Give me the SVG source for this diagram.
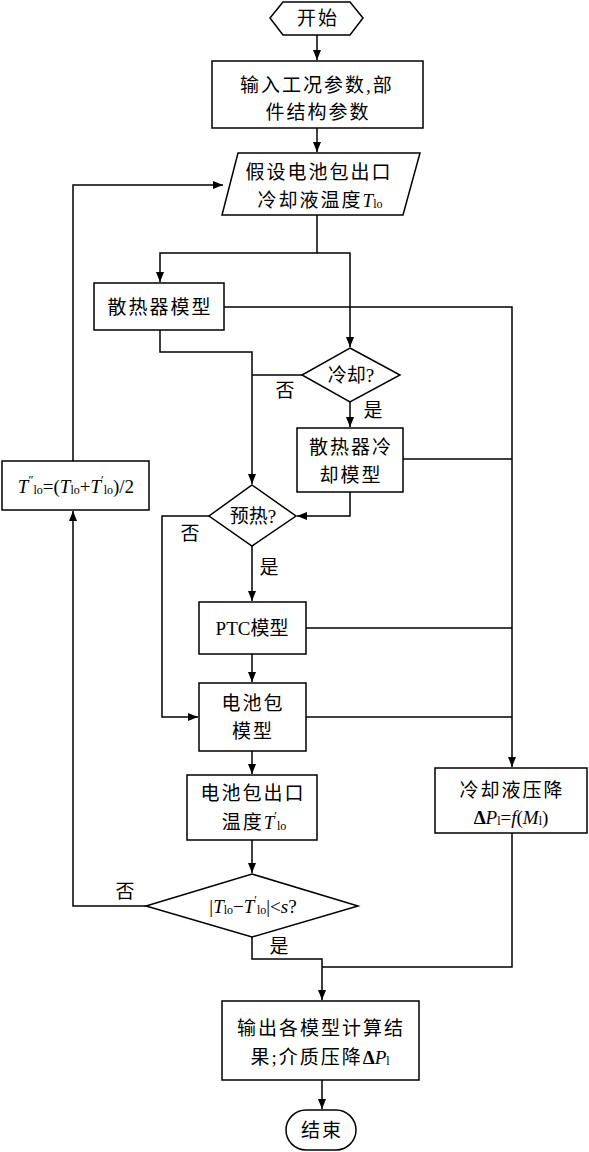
<svg xmlns="http://www.w3.org/2000/svg" width="589" height="1152" viewBox="0 0 589 1152">
<style>
.n{fill:#fff;stroke:#000;stroke-width:1.5}
.c{fill:none;stroke:#000;stroke-width:1.5}
text{font-family:"Liberation Serif","Noto Sans CJK SC",serif;font-size:19px;fill:#000;text-anchor:middle;dominant-baseline:central}
.z{letter-spacing:2px}
.i{font-style:italic}
.s{font-size:12px}
</style>
<defs>
<marker id="a" viewBox="0 0 10 8" refX="10" refY="4" markerWidth="10" markerHeight="8" markerUnits="userSpaceOnUse" orient="auto"><path d="M0,0L10,4L0,8z" fill="#000"/></marker>
</defs>
<g id="connectors">
<path class="c" d="M317,35V60" marker-end="url(#a)"/>
<path class="c" d="M317,128V152" marker-end="url(#a)"/>
<path class="c" d="M317,215V253H160V282" marker-end="url(#a)"/>
<path class="c" d="M317,253H350V347" marker-end="url(#a)"/>
<path class="c" d="M224,307H512V767" marker-end="url(#a)"/>
<path class="c" d="M160,330V352H252V484" marker-end="url(#a)"/>
<path class="c" d="M302,375H252"/>
<path class="c" d="M350,402V427" marker-end="url(#a)"/>
<path class="c" d="M403,459H512"/>
<path class="c" d="M350,492V516H297" marker-end="url(#a)"/>
<path class="c" d="M209,516H162V717H198" marker-end="url(#a)"/>
<path class="c" d="M252,546V601" marker-end="url(#a)"/>
<path class="c" d="M306,628H512"/>
<path class="c" d="M252,654V682" marker-end="url(#a)"/>
<path class="c" d="M306,717H512"/>
<path class="c" d="M252,751V774" marker-end="url(#a)"/>
<path class="c" d="M252,840V873" marker-end="url(#a)"/>
<path class="c" d="M146,906H73V511" marker-end="url(#a)"/>
<path class="c" d="M73,461V185H223" marker-end="url(#a)"/>
<path class="c" d="M252,937V959H322V1000" marker-end="url(#a)"/>
<path class="c" d="M512,833V967H322"/>
<path class="c" d="M322,1080V1109" marker-end="url(#a)"/>
<text x="285" y="390">否</text>
<text x="373" y="410">是</text>
<text x="190" y="533">否</text>
<text x="269" y="567">是</text>
<text x="125" y="891">否</text>
<text x="279" y="946">是</text>
</g>
<g id="start">
<polygon class="n" points="270,18 283,2 350,2 363,18 350,35 283,35"/>
<text class="z" x="318" y="18">开始</text>
</g>
<g id="input">
<rect class="n" x="212" y="61" width="211" height="67"/>
<text class="z" x="317" y="85">输入工况参数,部</text>
<text class="z" x="318" y="112">件结构参数</text>
</g>
<g id="assume">
<polygon class="n" points="238,153 420,153 403,215 222,215"/>
<text class="z" x="319" y="172">假设电池包出口</text>
<text x="320" y="200"><tspan class="z">冷却液温度</tspan><tspan class="i">T</tspan><tspan class="s" dy="4">lo</tspan></text>
</g>
<g id="radiator">
<rect class="n" x="94" y="283" width="130" height="47"/>
<text class="z" x="160" y="307">散热器模型</text>
</g>
<g id="cool">
<polygon class="n" points="350,348 400,375 350,402 302,375"/>
<text x="351" y="375">冷却?</text>
</g>
<g id="radcool">
<rect class="n" x="297" y="428" width="106" height="64"/>
<text class="z" x="351" y="447">散热器冷</text>
<text class="z" x="351" y="475">却模型</text>
</g>
<g id="preheat">
<polygon class="n" points="252,485 296,516 252,546 209,516"/>
<text x="253" y="516">预热?</text>
</g>
<g id="ptc">
<rect class="n" x="199" y="602" width="107" height="52"/>
<text x="252" y="628">PTC模型</text>
</g>
<g id="pack">
<rect class="n" x="199" y="683" width="107" height="68"/>
<text class="z" x="253" y="703">电池包</text>
<text class="z" x="253" y="731">模型</text>
</g>
<g id="outtemp">
<rect class="n" x="187" y="775" width="130" height="65"/>
<text class="z" x="253" y="793">电池包出口</text>
<text x="254" y="822"><tspan class="z">温度</tspan><tspan class="i">T</tspan><tspan class="s" dy="-6">′</tspan><tspan class="s" dy="10">lo</tspan></text>
</g>
<g id="check">
<polygon class="n" points="252,874 358,906 252,937 146,906"/>
<text x="253" y="906">|<tspan class="i">T</tspan><tspan class="s" dy="4">lo</tspan><tspan dy="-4">−</tspan><tspan class="i">T</tspan><tspan class="s" dy="-6">′</tspan><tspan class="s" dy="10">lo</tspan><tspan dy="-4">|&lt;</tspan><tspan class="i">s</tspan>?</text>
</g>
<g id="update">
<rect class="n" x="2" y="461" width="147" height="49"/>
<text x="76" y="486"><tspan class="i">T</tspan><tspan class="s" dy="-6">″</tspan><tspan class="s" dy="10">lo</tspan><tspan dy="-4">=(</tspan><tspan class="i">T</tspan><tspan class="s" dy="4">lo</tspan><tspan dy="-4">+</tspan><tspan class="i">T</tspan><tspan class="s" dy="-6">′</tspan><tspan class="s" dy="10">lo</tspan><tspan dy="-4">)/2</tspan></text>
</g>
<g id="pressure">
<rect class="n" x="435" y="768" width="152" height="65"/>
<text class="z" x="512" y="790">冷却液压降</text>
<text x="511" y="817"><tspan font-weight="bold">Δ</tspan><tspan class="i">P</tspan><tspan class="s" dy="4">l</tspan><tspan dy="-4">=</tspan><tspan class="i">f</tspan>(<tspan class="i">M</tspan><tspan class="s" dy="4">l</tspan><tspan dy="-4">)</tspan></text>
</g>
<g id="output">
<rect class="n" x="222" y="1001" width="197" height="79"/>
<text class="z" x="321" y="1028">输出各模型计算结</text>
<text x="320" y="1057"><tspan class="z">果;介质压降</tspan><tspan font-weight="bold">Δ</tspan><tspan class="i">P</tspan><tspan class="s" dy="4">l</tspan></text>
</g>
<g id="end">
<rect class="n" x="286" y="1110" width="70" height="40" rx="20"/>
<text class="z" x="322" y="1130">结束</text>
</g>
</svg>
